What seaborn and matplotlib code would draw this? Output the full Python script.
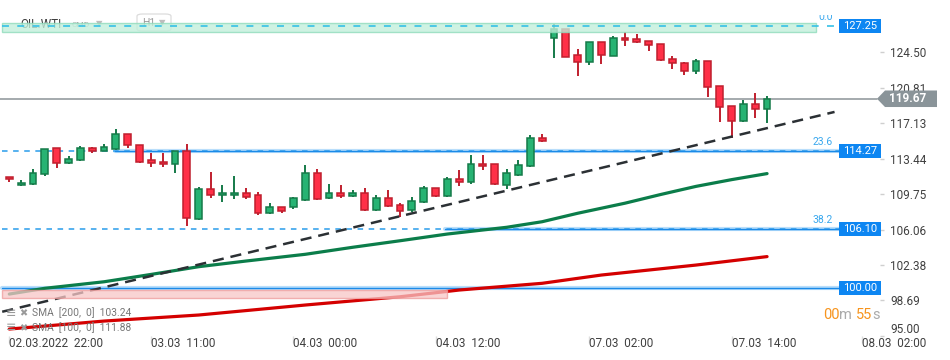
import numpy as np
import pandas as pd
import matplotlib
matplotlib.use("Agg")
import matplotlib.pyplot as plt
import seaborn as sns
from matplotlib.patches import Polygon, Rectangle, FancyBboxPatch
from matplotlib.transforms import blended_transform_factory, offset_copy, Bbox

# ---------------- data ----------------
opens = [111.49, 110.66, 110.76, 111.80, 114.51, 112.95, 113.26, 114.51, 114.26, 114.47,
         115.97, 114.82, 113.26, 113.05, 112.84, 114.23, 107.18, 110.24, 109.62, 109.62,
         109.83, 109.62, 107.74, 108.37, 108.43, 109.13, 111.91, 109.31, 109.83, 109.51,
         109.83, 108.06, 109.31, 108.58, 108.06, 108.89, 110.35, 109.51, 111.28, 110.97,
         112.84, 112.84, 110.66, 111.70, 112.63, 115.55, 126.02, 126.90, 124.19, 123.52,
         125.54, 124.15, 125.96, 125.85, 125.65, 125.33, 123.77, 123.36, 122.52, 123.57,
         120.96, 118.88, 117.32, 119.09, 118.57]
highs = [111.52, 111.21, 112.32, 114.41, 114.51, 113.71, 114.75, 114.64, 114.96, 116.52,
         116.00, 114.85, 114.02, 114.02, 114.25, 114.96, 110.45, 112.04, 110.69, 111.63,
         110.35, 109.96, 108.78, 108.40, 109.41, 112.77, 112.32, 110.79, 110.69, 110.17,
         110.38, 109.65, 110.17, 108.78, 109.41, 110.59, 110.38, 111.49, 112.22, 113.78,
         113.78, 112.88, 112.32, 113.26, 115.86, 115.97, 127.45, 126.95, 124.85, 125.60,
         125.60, 126.17, 126.58, 126.41, 125.70, 125.36, 124.12, 123.49, 123.80, 123.60,
         121.00, 118.90, 119.54, 120.27, 119.92]
lows = [110.97, 110.62, 110.72, 111.66, 112.49, 112.92, 113.20, 114.05, 114.24, 114.36,
        114.57, 113.01, 112.59, 112.59, 111.97, 106.45, 107.10, 109.37, 108.95, 109.26,
        109.20, 107.54, 107.70, 107.74, 108.20, 109.05, 109.16, 109.28, 109.37, 109.48,
        108.00, 108.00, 108.44, 107.33, 107.85, 108.85, 109.48, 109.48, 110.62, 110.76,
        112.22, 110.66, 110.30, 111.65, 112.60, 115.13, 123.94, 123.98, 122.07, 123.21,
        123.32, 124.10, 125.13, 125.50, 124.67, 123.62, 122.79, 122.11, 122.21, 119.82,
        117.22, 115.55, 117.28, 117.63, 117.11]
closes = [111.28, 110.87, 111.91, 114.41, 112.95, 113.36, 114.51, 114.26, 114.61, 115.97,
          114.82, 113.11, 112.95, 112.84, 114.23, 107.29, 110.24, 109.62, 109.83, 109.83,
          109.41, 107.74, 108.37, 107.95, 109.31, 111.91, 109.26, 109.83, 109.51, 109.83,
          108.06, 109.31, 108.47, 107.95, 109.00, 110.35, 109.51, 111.28, 110.97, 112.84,
          112.64, 110.76, 111.91, 112.74, 115.55, 115.24, 126.90, 124.04, 123.52, 125.54,
          124.19, 125.96, 125.75, 125.54, 125.23, 123.67, 123.36, 122.52, 123.57, 120.86,
          118.78, 117.32, 119.09, 118.57, 119.67]

sma100_idx = [0, 3, 8, 12, 16, 20, 25, 29, 33, 37, 42, 45, 48, 52, 55, 58, 61, 64]
sma100_val = [99.34, 99.94, 100.62, 101.39, 102.19, 102.78, 103.48, 104.21, 104.89, 105.59,
              106.29, 106.87, 107.75, 108.80, 109.70, 110.55, 111.25, 111.88]
sma200_idx = [0, 8, 16, 25, 33, 38, 45, 50, 58, 64]
sma200_val = [95.70, 96.53, 97.16, 98.20, 99.06, 99.76, 100.46, 101.32, 102.36, 103.24]

trend_idx = [-0.6, 69.7]
trend_val = [97.5, 118.3]

fib_levels = [127.25, 114.27, 106.10]
fib_names = ["0.0", "23.6", "38.2"]
round_level = 100.00
zone_low, zone_high = 98.98, 99.76
band_low, band_high = 126.65, 127.52
last_price = closes[-1]

ytick_vals = [124.50, 120.81, 117.13, 113.44, 109.75, 106.06, 102.38, 98.69, 95.00]
ytick_labels = ["124.50", "120.81", "117.13", "113.44", "109.75", "106.06", "102.38", "98.69", "95.00"]
xtick_idx = [0, 12, 24, 36, 49, 61, 72]
xtick_labels = ["02.03.2022  22:00", "03.03  11:00", "04.03  00:00", "04.03  12:00",
                "07.03  02:00", "07.03  14:00", "08.03  02:00"]
legend_rows = ["SMA  [200,  0]  103.24", "SMA  [100,  0]  111.88"]

# ---------------- style ----------------
sns.set_theme(style="white")
plt.rcParams['font.family'] = ['Roboto', 'DejaVu Sans']
plt.rcParams['lines.scale_dashes'] = False

W, H = 950, 360
fig = plt.figure(figsize=(W / 100, H / 100), dpi=100)
fig.patch.set_facecolor("white")

ax_w_px = 880.0
ylo, yhi = 95.0, 129.95
ppu = 9.607
ax_h_px = (yhi - ylo) * ppu
ax = fig.add_axes([0, 1 - ax_h_px / H, ax_w_px / W, ax_h_px / H])
x0_px, step_px = 9.3, 11.84
ax.set_xlim(-x0_px / step_px, (ax_w_px - x0_px) / step_px)
ax.set_ylim(ylo, yhi)
ax.set_facecolor("white")
for s in ax.spines.values():
    s.set_visible(False)
ax.grid(False)

def fx(px):
    return px / ax_w_px

bt = blended_transform_factory(ax.transAxes, ax.transData)

# ---------------- candles ----------------
df = pd.DataFrame({"o": opens, "h": highs, "l": lows, "c": closes})
df["i"] = np.arange(len(df))
up = df["c"] >= df["o"]
body_lo = np.minimum(df["o"], df["c"])
body_h = np.abs(df["c"] - df["o"])
fill = np.where(up, "#27b373", "#ff3047")
edge = np.where(up, "#157a49", "#c01f2e")
ax.vlines(df["i"], df["l"], df["h"], colors=edge, linewidth=1.4, zorder=3)
ax.bar(df["i"], body_h, bottom=body_lo, width=0.58, color=fill, edgecolor=edge,
       linewidth=1.1, zorder=3.2)

# ---------------- SMA lines ----------------
sns.lineplot(x=sma100_idx, y=sma100_val, ax=ax, color="#0b7d4a", linewidth=2.3,
             zorder=2.5, legend=False)
sns.lineplot(x=sma200_idx, y=sma200_val, ax=ax, color="#d40000", linewidth=2.3,
             zorder=2.5, legend=False)

# ---------------- trend line ----------------
ax.plot(trend_idx, trend_val, color="#2b3034", linewidth=1.8, dashes=(8, 5), zorder=4)

# ---------------- current price line ----------------
ax.plot([0, fx(877)], [last_price, last_price], transform=bt, color="#8b9397", lw=1.1, zorder=2)

# ---------------- fib / levels ----------------
ax.add_patch(Rectangle((fx(2), band_low), fx(816) - fx(2), band_high - band_low, transform=bt,
                       facecolor="#c2efdb", edgecolor="#90dcbc", lw=1.0, alpha=0.8, zorder=5))
ax.plot([fx(2), fx(838)], [fib_levels[0]] * 2, transform=bt, color="#35c0e6", lw=1.2,
        dashes=(5, 6), zorder=6)
solid_start = {1: 115, 2: 445}
for k in (1, 2):
    lv = fib_levels[k]
    ax.plot([fx(2), fx(839)], [lv, lv], transform=bt, color="#3aa4ec", lw=1.2,
            dashes=(4, 4), zorder=2.2)
    ax.plot([fx(solid_start[k]), fx(839)], [lv, lv], transform=bt, color="#a8d6fa", lw=3,
            alpha=0.8, zorder=2.1)
    ax.plot([fx(solid_start[k]), fx(839)], [lv, lv], transform=bt, color="#1a8ae8", lw=1.0,
            zorder=2.3)
ax.plot([fx(2), fx(839)], [round_level] * 2, transform=bt, color="#a8d6fa", lw=3, alpha=0.8, zorder=2.1)
ax.plot([fx(2), fx(839)], [round_level] * 2, transform=bt, color="#1a8ae8", lw=1.0, zorder=2.3)

ax.add_patch(Rectangle((fx(2), zone_low), fx(447) - fx(2), zone_high - zone_low, transform=bt,
                       facecolor="#f8c6c6", edgecolor="#ee9a9a", lw=1.0, alpha=0.75, zorder=4.5))

for lv, name in zip(fib_levels, fib_names):
    t = ax.text(fx(833), lv, name, transform=offset_copy(bt, fig=fig, x=0, y=4, units="dots"),
                ha="right", va="bottom", fontsize=7.5, color="#3aa8ee", zorder=7)
    if name == "0.0":
        t.set_clip_box(Bbox.from_extents(0, 0, W, H - 15))
        t.set_clip_on(True)
    else:
        t.set_clip_on(False)

for lv in fib_levels + [round_level]:
    ax.add_patch(Rectangle((fx(839), lv - 0.73), fx(880.7) - fx(839), 1.46, transform=bt,
                           facecolor="#0d86f2", edgecolor="none", clip_on=False, zorder=8))
    ax.text(fx(860), lv, f"{lv:.2f}", transform=bt, ha="center", va="center",
            fontsize=8, color="white", zorder=9, clip_on=False)

hh = 0.86
tag = Polygon([(fx(877), last_price), (fx(885), last_price + hh), (fx(937), last_price + hh),
               (fx(937), last_price - hh), (fx(885), last_price - hh)], closed=True,
              transform=bt, facecolor="#8a9499", edgecolor="none", clip_on=False, zorder=10)
ax.add_patch(tag)
ax.text(fx(908), last_price, f"{last_price:.2f}", transform=bt, ha="center", va="center",
        fontsize=8.5, fontweight="bold", color="white", zorder=11, clip_on=False)

# ---------------- axes ticks ----------------
ax.yaxis.tick_right()
ax.set_yticks(ytick_vals)
ax.set_yticklabels(ytick_labels)
ax.tick_params(axis="y", which="both", right=True, left=False, direction="out", length=3,
               width=1, color="#cfcfcf", pad=4.3, labelsize=8.5, labelcolor="#404040")
ylabs = ax.get_yticklabels()
ylabs[-1].set_verticalalignment("bottom")

ax.set_xticks(xtick_idx)
ax.set_xticklabels(xtick_labels)
ax.tick_params(axis="x", which="both", bottom=True, direction="out", length=5, width=1,
               color="#dddddd", pad=-4.0, labelsize=8.5, labelcolor="#404040")
for lab in ax.get_xticklabels():
    lab.set_horizontalalignment("left")

# ---------------- header (top-left) ----------------
ax.text(20 / W, 1 - 24 / H, "OIL.WTI", transform=fig.transFigure, fontsize=8.5,
        color="#3c3c3c", va="center", ha="left", zorder=4)
ax.text(72 / W, 1 - 25 / H, "CMD", transform=fig.transFigure, fontsize=6,
        color="#a8a8a8", va="center", ha="left", zorder=4)
ax.text(96 / W, 1 - 24 / H, "▼", transform=fig.transFigure, fontsize=6,
        color="#bdbdbd", va="center", ha="left", zorder=4, family=['DejaVu Sans'])
ax.add_patch(FancyBboxPatch((137 / W, 1 - 31 / H), 34 / W, 17 / H,
                            boxstyle="round,pad=0,rounding_size=0.006",
                            transform=fig.transFigure, facecolor="white",
                            edgecolor="#dcdcdc", lw=0.9, zorder=3.9, clip_on=False))
ax.text(142 / W, 1 - 23 / H, "H1", transform=fig.transFigure, fontsize=7.5,
        color="#9a9a9a", va="center", ha="left", zorder=4)
ax.text(159 / W, 1 - 23 / H, "▼", transform=fig.transFigure, fontsize=6,
        color="#bdbdbd", va="center", ha="left", zorder=4, family=['DejaVu Sans'])

# ---------------- legend (bottom-left) ----------------
for row, ypx in zip(legend_rows, [313, 328]):
    ax.text(6 / W, 1 - ypx / H, "≡", transform=fig.transFigure, fontsize=9, color="#9a9a9a",
            va="center", ha="left", zorder=6, family=['DejaVu Sans'])
    ax.text(19 / W, 1 - ypx / H, "✖", transform=fig.transFigure, fontsize=7, color="#9a9a9a",
            va="center", ha="left", zorder=6, family=['DejaVu Sans'])
    ax.text(32 / W, 1 - ypx / H, row, transform=fig.transFigure, fontsize=7.4, color="#777777",
            va="center", ha="left", zorder=6)

# ---------------- countdown ----------------
for s, xpx, col in [("00", 823, "#f7941d"), ("m", 839.5, "#aaaaaa"),
                    ("55", 856, "#f7941d"), ("s", 872.5, "#aaaaaa")]:
    ax.text(xpx / W, 1 - 315 / H, s, transform=fig.transFigure, fontsize=10.5, color=col,
            va="center", ha="left", zorder=6)

fig.savefig("out.png", dpi=100, facecolor="white")
